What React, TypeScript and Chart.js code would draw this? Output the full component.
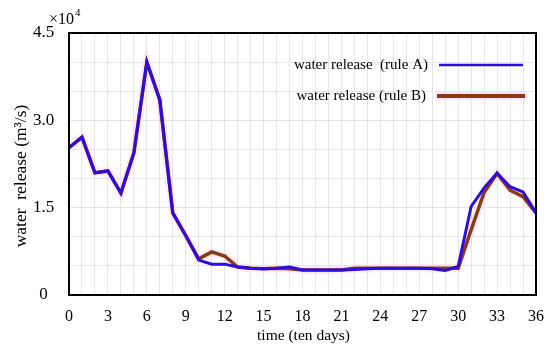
import React, { useEffect, useRef } from "react";
import { Chart, registerables } from "chart.js";
Chart.register(...registerables);

const periods = [0,1,2,3,4,5,6,7,8,9,10,11,12,13,14,15,16,17,18,19,20,21,22,23,24,25,26,27,28,29,30,31,32,33,34,35,36];
const ruleA = [25300,27100,21000,21300,17500,24400,40000,33500,14100,10200,6000,5300,5300,4800,4600,4500,4600,4800,4300,4300,4300,4300,4400,4500,4600,4600,4600,4600,4500,4200,4900,15200,18400,20900,18600,17700,14100];
const ruleB = [25300,27100,21000,21300,17500,24400,40000,33500,14100,10200,6200,7400,6700,4800,4600,4500,4600,4500,4300,4300,4300,4300,4600,4600,4600,4600,4600,4600,4600,4600,4600,11200,17600,20900,18000,16900,14100];
const xTickLabels = [0, 3, 6, 9, 12, 15, 18, 21, 24, 27, 30, 33, 36];
const yTickValues = [0, 15000, 30000, 45000];
const yTickLabels = ["0", "1.5", "3.0", "4.5"];
const legendLabels = ["water release  (rule A)", "water release (rule B)"];
const xTitle = "time (ten days)";
const yTitle = "water  release (m\u00B3/s)";

const FONT = "'Liberation Serif', 'Times New Roman', serif";
const colorA = "#2d0ce0";
const colorB = "#8a3a12";

const framePlugin = {
  id: "frame",
  afterDraw(chart: any) {
    const { ctx, chartArea: a } = chart;
    const xs = chart.scales.x;
    const ys = chart.scales.y;
    ctx.save();
    ctx.strokeStyle = "#000";
    ctx.lineWidth = 2;
    ctx.strokeRect(a.left, a.top, a.right - a.left, a.bottom - a.top);
    ctx.fillStyle = "#000";

    // x tick labels
    ctx.font = `16px ${FONT}`;
    ctx.textAlign = "center";
    ctx.textBaseline = "alphabetic";
    for (const v of xTickLabels) {
      ctx.fillText(String(v), xs.getPixelForValue(v), 321);
    }
    // y tick labels (centered in the label column)
    ctx.font = `17px ${FONT}`;
    ctx.textBaseline = "middle";
    yTickValues.forEach((v, i) => {
      ctx.fillText(yTickLabels[i], 43.5, ys.getPixelForValue(v));
    });
    // x title
    ctx.textBaseline = "alphabetic";
    ctx.font = `15.5px ${FONT}`;
    ctx.fillText(xTitle, 303.5, 340);
    // y title
    ctx.save();
    ctx.font = `17.5px ${FONT}`;
    ctx.textBaseline = "middle";
    ctx.translate(21, 176);
    ctx.rotate(-Math.PI / 2);
    ctx.fillText(yTitle, 0, 0);
    ctx.restore();

    // exponent label
    ctx.textAlign = "left";
    ctx.textBaseline = "alphabetic";
    ctx.font = `16px ${FONT}`;
    ctx.fillText("\u00D710", 49, 24);
    ctx.font = `11px ${FONT}`;
    ctx.fillText("4", 75, 16);

    // legend
    const items = [
      { text: legendLabels[0], color: colorA, w: 2.5, y: 65, tx: 428, x0: 439, x1: 523, glow: false },
      { text: legendLabels[1], color: colorB, w: 4, y: 96, tx: 426, x0: 437, x1: 525, glow: true },
    ];
    ctx.font = `15px ${FONT}`;
    ctx.textAlign = "right";
    ctx.textBaseline = "middle";
    for (const it of items) {
      ctx.fillStyle = "#000";
      ctx.fillText(it.text, it.tx, it.y);
      if (it.glow) {
        ctx.strokeStyle = "rgba(255,200,240,0.45)";
        ctx.lineWidth = 9;
        ctx.beginPath();
        ctx.moveTo(it.x0 - 2, it.y);
        ctx.lineTo(it.x1 + 2, it.y);
        ctx.stroke();
      }
      ctx.strokeStyle = it.color;
      ctx.lineWidth = it.w;
      ctx.beginPath();
      ctx.moveTo(it.x0, it.y);
      ctx.lineTo(it.x1, it.y);
      ctx.stroke();
    }
    ctx.restore();
  },
};

export default function App() {
  const ref = useRef<HTMLCanvasElement>(null);
  useEffect(() => {
    const toPts = (arr: number[]) => periods.map((p, i) => ({ x: p, y: arr[i] }));
    const chart = new Chart(ref.current as HTMLCanvasElement, {
      type: "line",
      data: {
        datasets: [
          { label: legendLabels[0], data: toPts(ruleA), borderColor: colorA, borderWidth: 3, pointRadius: 0, tension: 0, order: 0 },
          { label: legendLabels[1], data: toPts(ruleB), borderColor: colorB, borderWidth: 3.5, pointRadius: 0, tension: 0, order: 1 },
          { label: "glow", data: toPts(ruleB), borderColor: "rgba(255,200,240,0.35)", borderWidth: 8, pointRadius: 0, tension: 0, order: 2 },
        ],
      },
      plugins: [framePlugin],
      options: {
        animation: false,
        responsive: true,
        maintainAspectRatio: false,
        layout: { padding: { top: 33, right: 14, left: 0, bottom: 0 } },
        plugins: { legend: { display: false }, tooltip: { enabled: false } },
        scales: {
          x: {
            type: "linear",
            min: 0,
            max: 36,
            afterFit(s: any) { s.height = 54; },
            ticks: { stepSize: 1, autoSkip: false, maxRotation: 0, display: false },
            grid: { color: "#e6e6e6", lineWidth: 1, drawTicks: false },
            border: { display: false },
          },
          y: {
            min: 0,
            max: 45000,
            afterFit(s: any) { s.width = 69; },
            ticks: { stepSize: 5000, autoSkip: false, display: false },
            grid: { color: "#e6e6e6", lineWidth: 1, drawTicks: false },
            border: { display: false },
          },
        },
      },
    } as any);
    return () => chart.destroy();
  }, []);
  return (
    <div style={{ position: "fixed", left: 0, top: 0, width: 550, height: 349, background: "#fff" }}>
      <canvas ref={ref} />
    </div>
  );
}
